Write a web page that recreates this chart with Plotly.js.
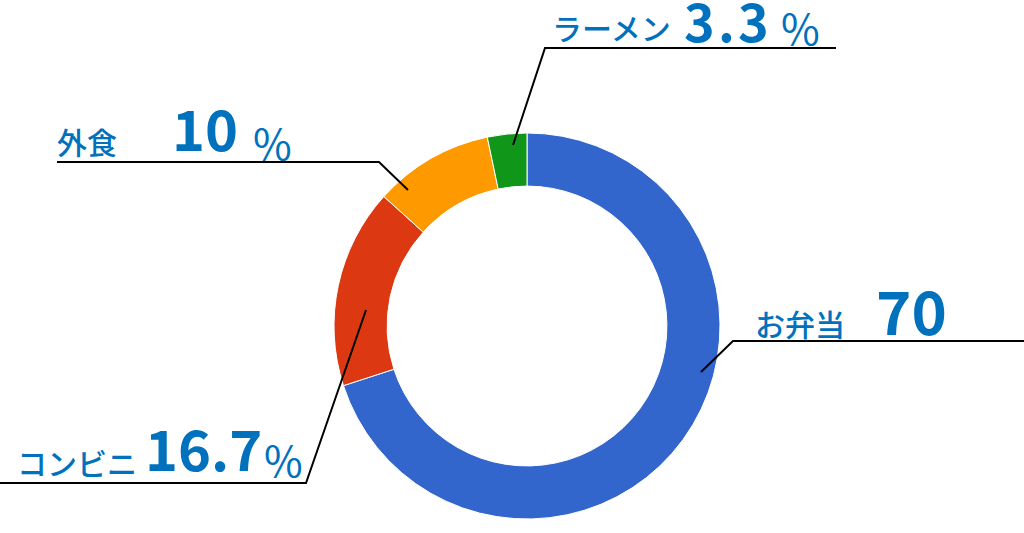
<!DOCTYPE html>
<html><head><meta charset="utf-8">
<script src="https://cdn.plot.ly/plotly-3.0.1.min.js"></script>
<style>html,body{margin:0;padding:0;background:#fff;overflow:hidden;} #chart{width:1024px;height:533px;}</style>
</head><body><div id="chart"></div>
<script>
// ---- data ----
const labels = ['お弁当', 'コンビニ', '外食', 'ラーメン'];
const values = [70, 16.7, 10, 3.3];
const valueTexts = ['70', '16.7', '10', '3\u200a.\u200a3'];
const units = ['', '%', '%', '%'];
const colors = ['#3366CC', '#DC3912', '#FF9900', '#109618'];

// ---- layout helpers (pixel -> paper) ----
const W = 1024, H = 533;
const px = x => x / W, py = y => 1 - y / H;
const cx = 527, cy = 326, R = 193;

// callout placement per slice (styling/layout only)
const callouts = [
  {pts: [[701,372],[733,341],[1024,341]], label: [753,323], num: [874,308], numSize: 60, unit: null},
  {pts: [[366,310],[306,483],[0,483]], label: [15,462], num: [143,446], numSize: 56, unit: [262,458]},
  {pts: [[408,190],[379,162],[57,162]], label: [55,141], num: [170,126], numSize: 56, unit: [251,141]},
  {pts: [[513,145],[545,48],[836,48]], label: [550,27], num: [682,19], numSize: 52, unit: [779,27]}
];

const textColor = '#0071BC';
const fam = '"Noto Sans CJK JP", "Noto Sans", sans-serif';

const shapes = [], annotations = [];
callouts.forEach((c, i) => {
  const p = c.pts;
  shapes.push({
    type: 'path', xref: 'paper', yref: 'paper',
    path: `M ${px(p[0][0])} ${py(p[0][1])} L ${px(p[1][0])} ${py(p[1][1])} L ${px(p[2][0])} ${py(p[2][1])}`,
    line: {color: '#000', width: 2}
  });
  annotations.push({
    xref: 'paper', yref: 'paper', x: px(c.label[0]), y: py(c.label[1]),
    xanchor: 'left', yanchor: 'middle', showarrow: false, text: labels[i],
    font: {family: fam, size: 30, color: textColor, weight: 500}
  });
  annotations.push({
    xref: 'paper', yref: 'paper', x: px(c.num[0]), y: py(c.num[1]),
    xanchor: 'left', yanchor: 'middle', showarrow: false, text: valueTexts[i],
    font: {family: fam, size: c.numSize, color: textColor, weight: 700}
  });
  if (c.unit && units[i]) {
    annotations.push({
      xref: 'paper', yref: 'paper', x: px(c.unit[0]), y: py(c.unit[1]),
      xanchor: 'left', yanchor: 'middle', showarrow: false, text: units[i],
      font: {family: fam, size: 42, color: textColor, weight: 400}
    });
  }
});

const trace = {
  type: 'pie', labels: labels, values: values, hole: 0.725,
  sort: false, direction: 'clockwise', rotation: 0,
  marker: {colors: colors, line: {color: '#ffffff', width: 1}},
  textinfo: 'none', hoverinfo: 'none', showlegend: false,
  domain: {x: [px(cx - R), px(cx + R)], y: [py(cy + R), py(cy - R)]}
};

const layout = {
  width: W, height: H, margin: {l: 0, r: 0, t: 0, b: 0},
  paper_bgcolor: '#fff', plot_bgcolor: '#fff',
  showlegend: false, shapes: shapes, annotations: annotations
};

Plotly.newPlot('chart', [trace], layout, {displayModeBar: false, staticPlot: true});
</script></body></html>
